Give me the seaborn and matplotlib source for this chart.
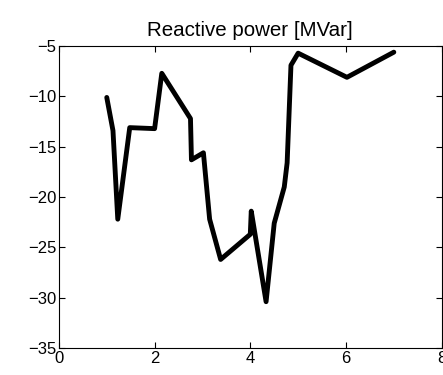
import matplotlib
matplotlib.use("Agg")
import matplotlib.pyplot as plt
import seaborn as sns
import pandas as pd

time_h = [1.0, 1.13, 1.23, 1.48, 2.0, 2.15, 2.75, 2.77, 3.02, 3.15, 3.38, 4.0, 4.02,
          4.33, 4.5, 4.71, 4.77, 4.85, 5.0, 6.02, 7.0]
reactive_mvar = [-10.1, -13.4, -22.2, -13.1, -13.2, -7.7, -12.2, -16.3, -15.6, -22.2, -26.2,
                 -23.7, -21.4, -30.4, -22.6, -19.0, -16.6, -6.9, -5.7, -8.1, -5.6]
x_ticks = [0, 2, 4, 6, 8]
y_ticks = [-35, -30, -25, -20, -15, -10, -5]
title = "Reactive power [MVar]"

sns.set_style("white")
plt.rcParams['font.family'] = ['Liberation Sans', 'DejaVu Sans']
plt.rcParams['axes.unicode_minus'] = True
plt.rcParams['text.color'] = 'black'
plt.rcParams['axes.labelcolor'] = 'black'

df = pd.DataFrame({"t": time_h, "q": reactive_mvar})

fig = plt.figure(figsize=(4.43, 3.75), dpi=100)
ax = fig.add_axes([0.133, 0.072, 0.864, 0.805])
sns.lineplot(data=df, x="t", y="q", sort=False, estimator=None, color="black",
             linewidth=3.5, ax=ax)
ax.set_xlim(0, 8)
ax.set_ylim(-35, -5)
ax.set_xticks(x_ticks)
ax.set_yticks(y_ticks)
ax.set_xticklabels([str(v) for v in x_ticks])
ax.set_yticklabels([str(v).replace('-', '\u2212') for v in y_ticks])
ax.set_xlabel("")
ax.set_ylabel("")
ax.set_title(title, fontsize=14.8, pad=7, color="black")
ax.tick_params(direction="in", length=4, width=0.8, labelsize=12, top=True, right=True,
               bottom=True, left=True, colors="black", pad=2)
for s in ax.spines.values():
    s.set_color("black")
    s.set_linewidth(0.8)
fig.savefig("out.png", dpi=100)
